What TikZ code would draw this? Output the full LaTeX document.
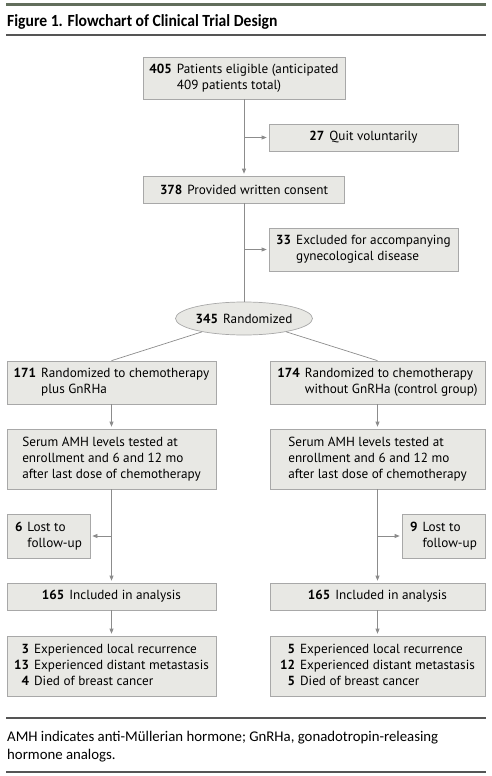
\documentclass[tikz,border=0pt]{standalone}
\usepackage{fontspec}
\setmainfont{PT Sans}
\newfontfamily\titlefont{Carlito}[FakeStretch=0.92]
\newfontfamily\notefont{Carlito}
\usetikzlibrary{arrows.meta,shapes.geometric}
\definecolor{boxfill}{RGB}{232,232,228}
\definecolor{boxline}{RGB}{168,168,168}
\definecolor{flowline}{RGB}{140,140,140}
\definecolor{rulegreen}{RGB}{98,110,92}
\definecolor{rulegray}{RGB}{85,85,85}
% count in bold, text beside it (second line hangs under the text)
\newcommand{\countpair}[3]{\begin{tabular}{@{}l@{\hspace{5pt}}l@{}}\textbf{#1}&#2\\&#3\end{tabular}}
\newcommand{\countthree}[6]{\begin{tabular}{@{}r@{\hspace{5pt}}l@{}}\textbf{#1}&#2\\\textbf{#3}&#4\\\textbf{#5}&#6\end{tabular}}
\begin{document}
\begin{tikzpicture}[x=1pt,y=-1pt,
  font=\fontsize{13.2}{16}\selectfont,
  flowbox/.style={draw=boxline, fill=boxfill, line width=0.7pt, inner sep=0pt, align=left},
  flowoval/.style={ellipse, draw=boxline, fill=boxfill, line width=0.7pt, inner sep=0pt,
    minimum width=127pt, minimum height=33pt},
  link/.style={draw=flowline, line width=0.7pt},
  arr/.style={link, -{Triangle[length=5pt,width=4pt]}, shorten >=2pt}]
  \useasboundingbox (0,0) rectangle (492,776);
  % title and rules
  \draw[rulegreen, line width=3pt] (6,5) -- (486,5);
  \node[anchor=base west, inner sep=0pt, font=\titlefont\bfseries\fontsize{17}{20}\selectfont]
    (title) at (7,26.5) {Figure 1. Flowchart of Clinical Trial Design};
  \draw[rulegray, line width=1.5pt] (6,35) -- (486,35);

  % trunk
  \node[flowbox, minimum width=202pt, minimum height=42pt] (elig) at (244,78)
    {\countpair{405}{Patients eligible (anticipated}{409 patients total)}};
  \node[flowbox, minimum width=189pt, minimum height=27pt] (quit) at (363.5,137.5)
    {\textbf{27}\hspace{5pt}Quit voluntarily};
  \node[flowbox, minimum width=201pt, minimum height=27pt] (consent) at (244,189.5)
    {\textbf{378}\hspace{5pt}Provided written consent};
  \node[flowbox, minimum width=189pt, minimum height=43pt] (excl) at (363.5,249.5)
    {\countpair{33}{Excluded for accompanying}{gynecological disease}};
  \node[flowoval] (rand) at (244,318.5) {\textbf{345}\hspace{5pt}Randomized};

  % arm A
  \node[flowbox, minimum width=209pt, minimum height=43pt] (armA) at (111.5,382.5)
    {\countpair{171}{Randomized to chemotherapy}{plus GnRHa}};
  \node[flowbox, minimum width=209pt, minimum height=60pt] (amhA) at (111.5,459)
    {Serum AMH levels tested at\\enrollment and 6 and 12 mo\\after last dose of chemotherapy};
  \node[flowbox, minimum width=83pt, minimum height=44pt] (lostA) at (48.5,536)
    {\countpair{6}{Lost to}{follow-up}};
  \node[flowbox, minimum width=209pt, minimum height=27pt] (anaA) at (111.5,596.5)
    {\textbf{165}\hspace{5pt}Included in analysis};
  \node[flowbox, minimum width=209pt, minimum height=60pt] (outA) at (111.5,666)
    {\countthree{3}{Experienced local recurrence}{13}{Experienced distant metastasis}{4}{Died of breast cancer}};

  % arm B
  \node[flowbox, minimum width=215pt, minimum height=43pt] (armB) at (377.5,382.5)
    {\countpair{174}{Randomized to chemotherapy}{without GnRHa (control group)}};
  \node[flowbox, minimum width=215pt, minimum height=60pt] (amhB) at (377.5,459)
    {Serum AMH levels tested at\\enrollment and 6 and 12 mo\\after last dose of chemotherapy};
  \node[flowbox, minimum width=83pt, minimum height=44pt] (lostB) at (443.5,536)
    {\countpair{9}{Lost to}{follow-up}};
  \node[flowbox, minimum width=215pt, minimum height=27pt] (anaB) at (377.5,596.5)
    {\textbf{165}\hspace{5pt}Included in analysis};
  \node[flowbox, minimum width=215pt, minimum height=60pt] (outB) at (377.5,666)
    {\countthree{5}{Experienced local recurrence}{12}{Experienced distant metastasis}{5}{Died of breast cancer}};

  % connectors
  \draw[arr] (elig.south) -- (consent.north);
  \draw[arr] (elig.south |- quit.west) -- (quit.west);
  \draw[link] (consent.south) -- (rand.north);
  \draw[arr] (consent.south |- excl.west) -- (excl.west);
  \draw[link] (rand) -- (armA.north);
  \draw[link] (rand) -- (armB.north);
  \draw[arr] (armA) -- (amhA);
  \draw[arr] (amhA) -- (anaA);
  \draw[arr] (amhA.south |- lostA.east) -- (lostA.east);
  \draw[arr] (anaA) -- (outA);
  \draw[arr] (armB) -- (amhB);
  \draw[arr] (amhB) -- (anaB);
  \draw[arr] (amhB.south |- lostB.west) -- (lostB.west);
  \draw[arr] (anaB) -- (outB);

  % footnote
  \draw[rulegray, line width=1.5pt] (6,718) -- (486,718);
  \node[anchor=base west, inner sep=0pt, align=left, font=\notefont\fontsize{14.8}{17.5}\selectfont]
    (note) at (7,759.3) {AMH indicates anti-Müllerian hormone; GnRHa, gonadotropin-releasing\\hormone analogs.};
  \draw[rulegray, line width=1.5pt] (6,772) -- (486,772);
\end{tikzpicture}
\end{document}
